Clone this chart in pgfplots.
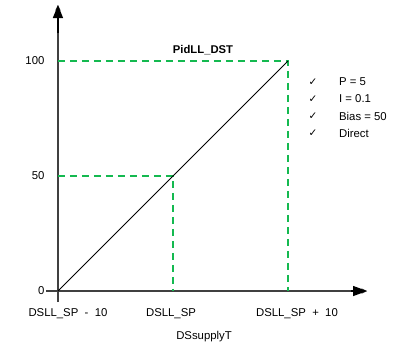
\documentclass[border=0pt]{standalone}
\usepackage{pgfplots}
\pgfplotsset{compat=1.18}
\usetikzlibrary{arrows.meta}
\usepackage{fontspec}
\setmainfont{Liberation Sans}
\newfontfamily\dejavu{DejaVu Sans}
\definecolor{dgreen}{RGB}{20,185,80}
\definecolor{axgray}{RGB}{64,64,64}
\begin{document}
\begin{tikzpicture}[>={Triangle[length=13.5bp,width=10bp]}]
\begin{axis}[
  scale only axis, width=321bp, height=297bp,
  xmin=-0.104, xmax=2.687, ymin=-4.8, ymax=124.3,
  axis lines=middle,
  axis line style={axgray, line width=1.4bp},
  hide obscured x ticks=false, hide obscured y ticks=false,
  xtick={0.087,0.983,2.078},
  xticklabels={DSLL\_SP~~-~~10, DSLL\_SP, DSLL\_SP~~+~~10},
  ytick={0,50,100},
  major tick length=0pt,
  tick style={draw=none},
  clip=false,
  tick label style={font=\fontsize{11.4}{13}\selectfont},
  /pgf/number format/assume math mode=true,
  xticklabel style={anchor=center, yshift=-23bp},
  yticklabel style={anchor=east, xshift=-10bp},
]
\addplot[dgreen, line width=1.1bp, dash pattern=on 7.5bp off 4.5bp] coordinates {(0,100) (2,100) (2,0)};
\addplot[dgreen, line width=1.1bp, dash pattern=on 7.5bp off 4.5bp] coordinates {(0,50) (1,50) (1,0)};
\addplot[black, line width=0.8bp] coordinates {(0,0) (2,100)};
\draw[black, line width=1.4bp, -{Triangle[length=13bp,width=10bp]}] (axis cs:0,112) -- (axis cs:0,124.3);
\draw[black, line width=1.4bp, -{Triangle[length=14bp,width=10bp]}] (axis cs:2.55,0) -- (axis cs:2.687,0);
\node[font=\fontsize{11.3}{13}\selectfont\bfseries] at (axis cs:1.261,104.8) {PidLL\_DST};
\node[font=\fontsize{11.4}{13}\selectfont] at (axis cs:1.27,-19.6) {DSsupplyT};
\node[font=\dejavu\fontsize{10.5}{12}\selectfont] at (axis cs:2.217,90.9) {✓};
\node[font=\dejavu\fontsize{10.5}{12}\selectfont] at (axis cs:2.217,83.5) {✓};
\node[font=\dejavu\fontsize{10.5}{12}\selectfont] at (axis cs:2.217,76.1) {✓};
\node[font=\dejavu\fontsize{10.5}{12}\selectfont] at (axis cs:2.217,68.7) {✓};
\node[anchor=west, inner sep=0pt, font=\fontsize{11.4}{13}\selectfont] at (axis cs:2.443,90.9) {P = 5};
\node[anchor=west, inner sep=0pt, font=\fontsize{11.4}{13}\selectfont] at (axis cs:2.443,83.5) {I = 0.1};
\node[anchor=west, inner sep=0pt, font=\fontsize{11.4}{13}\selectfont] at (axis cs:2.443,76.1) {Bias = 50};
\node[anchor=west, inner sep=0pt, font=\fontsize{11.4}{13}\selectfont] at (axis cs:2.443,68.7) {Direct};
\coordinate (bl) at (axis cs:-0.504,-25.2);
\coordinate (tr) at (axis cs:2.913,126.5);
\end{axis}
\pgfresetboundingbox
\path (bl) rectangle (tr);
\end{tikzpicture}
\end{document}
